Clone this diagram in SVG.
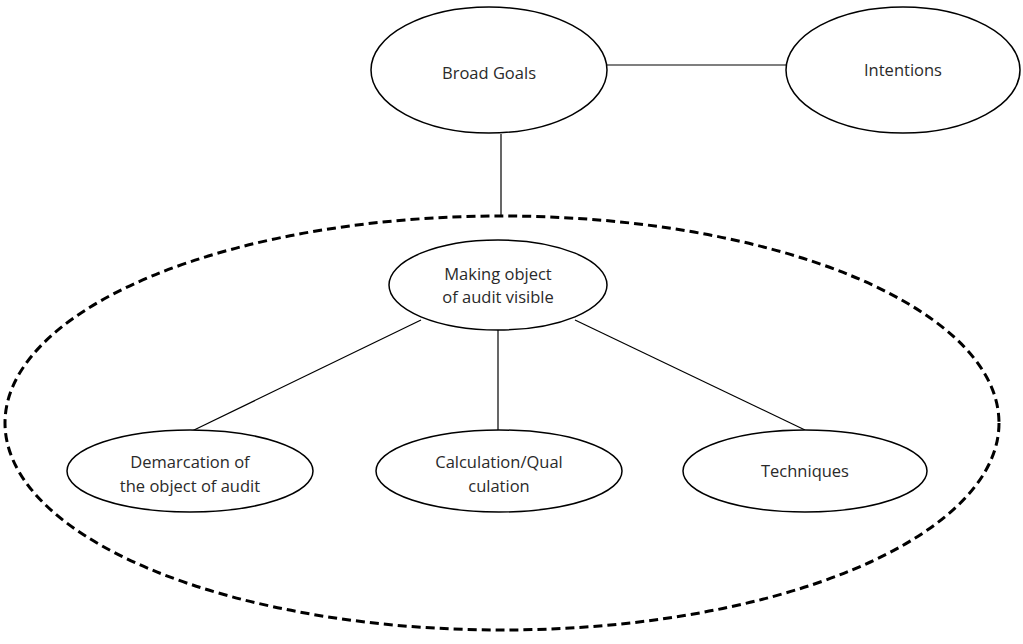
<svg xmlns="http://www.w3.org/2000/svg" width="1023" height="644" viewBox="0 0 1023 644">
<style>
.n{fill:#fff;stroke:#000;stroke-width:1.5}
.c{stroke:#000;stroke-width:1.2;fill:none}
.t{font-family:"Open Sans","Liberation Sans",sans-serif;font-size:16.5px;fill:#2a2a2a;text-anchor:middle}
</style>
<rect width="1023" height="644" fill="#fff"/>
<g id="connectors">
<line class="c" x1="607" y1="65" x2="786" y2="65"/>
<line class="c" x1="501" y1="134" x2="501" y2="217"/>
<line class="c" x1="421" y1="320" x2="192" y2="431"/>
<line class="c" x1="498" y1="330" x2="498" y2="430"/>
<line class="c" x1="575" y1="320" x2="805" y2="430"/>
</g>
<g id="group">
<ellipse cx="502" cy="423" rx="497" ry="207" fill="none" stroke="#000" stroke-width="3" stroke-dasharray="9,5"/>
</g>
<g id="broad-goals">
<ellipse class="n" cx="489" cy="70" rx="118" ry="63"/>
<text class="t" x="489" y="79">Broad Goals</text>
</g>
<g id="intentions">
<ellipse class="n" cx="903" cy="70" rx="117" ry="63"/>
<text class="t" x="903" y="76">Intentions</text>
</g>
<g id="making-visible">
<ellipse class="n" cx="498" cy="285" rx="109" ry="45"/>
<text class="t" x="498" y="280">Making object</text>
<text class="t" x="498" y="303">of audit visible</text>
</g>
<g id="demarcation">
<ellipse class="n" cx="190" cy="471" rx="123" ry="41"/>
<text class="t" x="190" y="468">Demarcation of</text>
<text class="t" x="190" y="492">the object of audit</text>
</g>
<g id="calculation">
<ellipse class="n" cx="499" cy="471" rx="123" ry="41"/>
<text class="t" x="499" y="468">Calculation/Qual</text>
<text class="t" x="499" y="492">culation</text>
</g>
<g id="techniques">
<ellipse class="n" cx="805" cy="471" rx="122" ry="41"/>
<text class="t" x="805" y="477">Techniques</text>
</g>
</svg>
